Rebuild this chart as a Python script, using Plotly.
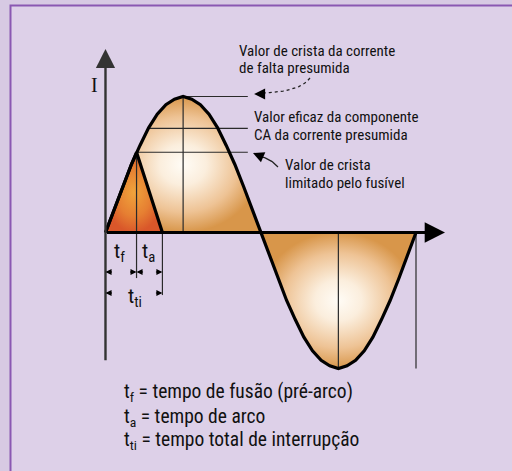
import numpy as np
import plotly.graph_objects as go

# ---------------------------------------------------------------------------
# Prospective fault current over one cycle (angle in electrical degrees,
# current in per-unit of the prospective peak)
angle = list(range(0, 361, 10))
current = [0.00, 0.17, 0.34, 0.50, 0.64, 0.77, 0.87, 0.94, 0.98, 1.00,
           0.98, 0.94, 0.87, 0.77, 0.64, 0.50, 0.34, 0.17, 0.00,
           -0.17, -0.34, -0.50, -0.64, -0.77, -0.87, -0.94, -0.98, -1.00,
           -0.98, -0.94, -0.87, -0.77, -0.64, -0.50, -0.34, -0.17, 0.00]

# Current actually let through by the fuse (melting, then arcing to zero)
arc_angle = [0, 10, 20, 30, 36, 66]
arc_current = [0.00, 0.17, 0.34, 0.50, 0.59, 0.00]

MELT_END = 36        # end of t_f (pre-arcing time)
CLEAR_END = 66       # end of t_a  -> total clearing time t_ti
PROSPECTIVE_PEAK = 1.00
RMS_LEVEL = 0.766
LIMITED_PEAK = 0.59
GUIDE_END = 165      # where the level guide lines stop

# axis extents (data units)
Y_AXIS_BOTTOM, Y_AXIS_TOP = -0.95, 1.35
X_AXIS_END = 393.6
DIM_ROW_1, DIM_ROW_2 = -0.29, -0.445
MELT_LINE_BOTTOM, CLEAR_LINE_BOTTOM, CYCLE_LINE_BOTTOM = -0.335, -0.46, -1.0

X_RANGE = [-122.3, 471.3]
Y_RANGE = [-1.7537, 1.7096]

FONT = "Liberation Sans Narrow, Arial Narrow, Roboto Condensed, Liberation Sans, sans-serif"
TXT = "#111111"
HUMP_SCALE = [[0, "#fffcf6"], [0.3, "#fbeedd"], [0.7, "#eec395"], [1, "#d8964a"]]
ARC_SCALE = [[0, "#f0a43c"], [0.6, "#e67f32"], [1, "#d9572a"]]

fig = go.Figure()

half = angle.index(180)
# positive half-wave fill
fig.add_trace(go.Scatter(x=angle[:half + 1], y=current[:half + 1], mode="lines",
                         fill="toself", line=dict(width=0),
                         fillgradient=dict(type="radial", colorscale=HUMP_SCALE),
                         hoverinfo="skip"))
# negative half-wave fill
fig.add_trace(go.Scatter(x=angle[half:], y=current[half:], mode="lines",
                         fill="toself", line=dict(width=0),
                         fillgradient=dict(type="radial", colorscale=HUMP_SCALE),
                         hoverinfo="skip"))
# let-through current fill
fig.add_trace(go.Scatter(x=arc_angle, y=arc_current, mode="lines",
                         fill="toself", line=dict(width=0),
                         fillgradient=dict(type="radial", colorscale=ARC_SCALE),
                         hoverinfo="skip"))

# level guide lines
rise = slice(0, angle.index(90) + 1)
rms_start = float(np.interp(RMS_LEVEL, current[rise], angle[rise]))
guide_x, guide_y = [], []
for x0, lvl in [(90, PROSPECTIVE_PEAK), (rms_start, RMS_LEVEL), (MELT_END, LIMITED_PEAK)]:
    guide_x += [x0, GUIDE_END, None]
    guide_y += [lvl, lvl, None]
# vertical lines
for xv, y0, y1 in [(90, 0, PROSPECTIVE_PEAK), (270, 0, -1.0),
                   (MELT_END, LIMITED_PEAK, MELT_LINE_BOTTOM),
                   (CLEAR_END, 0, CLEAR_LINE_BOTTOM),
                   (360, 0, CYCLE_LINE_BOTTOM)]:
    guide_x += [xv, xv, None]
    guide_y += [y0, y1, None]
fig.add_trace(go.Scatter(x=guide_x, y=guide_y, mode="lines",
                         line=dict(color="#2a2a2a", width=1.2), hoverinfo="skip"))

# outlines
fig.add_trace(go.Scatter(x=angle, y=current, mode="lines",
                         line=dict(color="black", width=3.2), hoverinfo="skip"))
fig.add_trace(go.Scatter(x=arc_angle, y=arc_current, mode="lines",
                         line=dict(color="black", width=3.2), hoverinfo="skip"))


def bezier(p0, p1, p2, n=20):
    t = np.linspace(0, 1, n)
    x = (1 - t) ** 2 * p0[0] + 2 * (1 - t) * t * p1[0] + t ** 2 * p2[0]
    y = (1 - t) ** 2 * p0[1] + 2 * (1 - t) * t * p1[1] + t ** 2 * p2[1]
    return x, y


# callout leaders
lx, ly = bezier((237.1, 1.136), (225.5, 1.033), (181.4, 1.026))
fig.add_trace(go.Scatter(x=lx, y=ly, mode="lines",
                         line=dict(color="#222", width=1.3, dash="dot"), hoverinfo="skip"))
lx, ly = bezier((200.0, 0.482), (190.7, 0.548), (178.0, 0.560))
fig.add_trace(go.Scatter(x=lx, y=ly, mode="lines",
                         line=dict(color="#222", width=1.3), hoverinfo="skip"))

ann = []


def arrow(x, y, ax, ay, width, size, color="black", data_tail=False):
    d = dict(x=x, y=y, ax=ax, ay=ay, text="", showarrow=True, arrowhead=2,
             arrowwidth=width, arrowsize=size, arrowcolor=color, xref="x", yref="y")
    if data_tail:
        d.update(axref="x", ayref="y")
    ann.append(d)


# axes
arrow(0, Y_AXIS_TOP, 0, Y_AXIS_BOTTOM, 2.4, 1.6, "#333", data_tail=True)
arrow(X_AXIS_END, 0, 0, 0, 2.8, 1.45, "black", data_tail=True)
# callout arrowheads
arrow(172.3, 1.018, 9, 0, 1.3, 1.7)
arrow(171.0, 0.585, 7, 3, 1.3, 1.7)
# dimension arrows
for xt, row, d in [(0, DIM_ROW_1, 8), (MELT_END, DIM_ROW_1, -8), (MELT_END, DIM_ROW_1, 8),
                   (CLEAR_END, DIM_ROW_1, -8), (0, DIM_ROW_2, 8), (CLEAR_END, DIM_ROW_2, -8)]:
    arrow(xt, row, d, 0, 1.1, 1.1)


def label(x, y, text, size=15, anchor="left", family=FONT):
    ann.append(dict(x=x, y=y, text=text, showarrow=False, xanchor=anchor, yanchor="middle",
                    xref="x", yref="y", font=dict(family=family, size=size, color=TXT)))


label(152.5, 1.335, "Valor de crista da corrente")
label(152.5, 1.206, "de falta presumida")
label(169.9, 0.853, "Valor eficaz da componente")
label(169.9, 0.717, "CA da corrente presumida")
label(205.8, 0.496, "Valor de crista")
label(205.8, 0.364, "limitado pelo fusível")

label(-13.3, 1.085, "I", size=20, anchor="center", family="Liberation Serif, serif")
label(16.5, -0.15, "t<sub>f</sub>", size=21, anchor="center")
label(50.0, -0.15, "t<sub>a</sub>", size=21, anchor="center")
label(34.5, -0.48, "t<sub>ti</sub>", size=21, anchor="center")

label(19.1, -1.173, "t<sub>f</sub> = tempo de fusão (pré-arco)", size=19.5)
label(19.1, -1.357, "t<sub>a</sub> = tempo de arco", size=19.5)
label(19.1, -1.526, "t<sub>ti</sub> = tempo total de interrupção", size=19.5)

fig.update_layout(
    width=512, height=471, margin=dict(l=0, r=0, t=0, b=0),
    paper_bgcolor="#d7cae3", plot_bgcolor="rgba(0,0,0,0)",
    showlegend=False, annotations=ann,
    xaxis=dict(range=X_RANGE, visible=False, fixedrange=True),
    yaxis=dict(range=Y_RANGE, visible=False, fixedrange=True),
    shapes=[dict(type="rect", xref="paper", yref="paper", layer="below",
                 x0=10.5 / 512, x1=1.05, y0=-0.05, y1=1 - 5.5 / 471,
                 fillcolor="#ddd0e8", line=dict(color="#8a58b2", width=2))],
)

fig.write_html("out.html")
